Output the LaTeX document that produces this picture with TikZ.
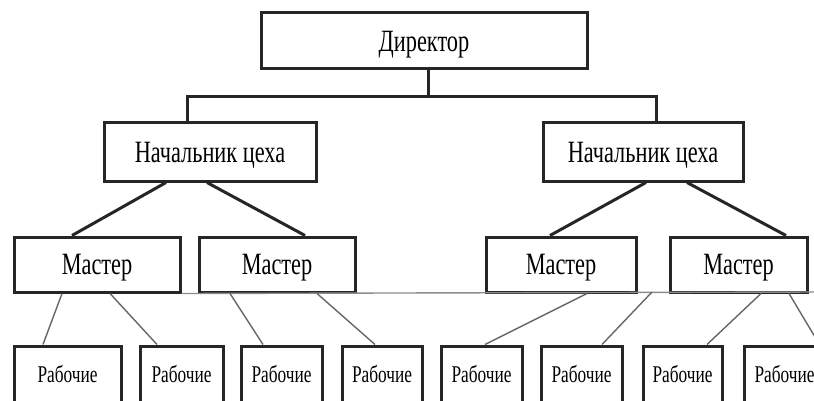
\documentclass[tikz,border=0pt]{standalone}
\usepackage{fontspec}
\setmainfont[FakeStretch=0.72]{Liberation Serif}
\tikzstyle{post}=[draw=black!85, line width=3pt, inner sep=0pt, font=\fontsize{31}{33}\selectfont, text height=20.5pt, text depth=0pt]
\tikzstyle{crew}=[post, font=\fontsize{24}{26}\selectfont, text height=15.9pt, minimum height=58pt]
\tikzstyle{link}=[draw=black!85, line width=3pt, line join=miter]
\tikzstyle{twig}=[draw=black!60, line width=1.4pt]

\begin{document}
\begin{tikzpicture}[x=1pt,y=-1pt]
            \useasboundingbox (0,0) rectangle (814,401);
            \clip (0,0) rectangle (814,401);
            \node[post, minimum width=326pt, minimum height=56pt] (d) at (424,41) {Директор};
            \node[post, minimum width=212pt, minimum height=58pt] (n1) at (210,152) {Начальник цеха};
            \node[post, minimum width=200pt, minimum height=58pt] (n2) at (643,152) {Начальник цеха};
            \node[post, minimum width=166pt, minimum height=55pt] (m1) at (97,264.5) {Мастер};
            \node[post, minimum width=156pt, minimum height=55pt] (m2) at (277,264.5) {Мастер};
            \node[post, minimum width=150pt, minimum height=55pt] (m3) at (561,264.5) {Мастер};
            \node[post, minimum width=137pt, minimum height=55pt] (m4) at (738.5,264.5) {Мастер};
            \node[crew, minimum width=107pt] (r1) at (67.5,375) {Рабочие};
            \node[crew, minimum width=83pt] (r2) at (181.5,375) {Рабочие};
            \node[crew, minimum width=81pt] (r3) at (281.5,375) {Рабочие};
            \node[crew, minimum width=80pt] (r4) at (382,375) {Рабочие};
            \node[crew, minimum width=81pt] (r5) at (481.5,375) {Рабочие};
            \node[crew, minimum width=81pt] (r6) at (581.5,375) {Рабочие};
            \node[crew, minimum width=79pt] (r7) at (682.5,375) {Рабочие};
            \node[crew, minimum width=81pt] (r8) at (784.5,375) {Рабочие};
            \coordinate (bus) at (428,97);
            \coordinate (rim) at (820,292);
            \coordinate (fork) at (652,292);
            \draw[link] (d.south -| bus) -- (bus);
            \draw[link] ([xshift=-23pt]n1.north) |- (bus) -| ([xshift=13pt]n2.north);
            \draw[link] ([xshift=-44pt]n1.south) -- ([xshift=-25pt]m1.north);
            \draw[link] ([xshift=-3pt]n1.south) -- ([xshift=28pt]m2.north);
            \draw[link] ([xshift=3pt]n2.south) -- ([xshift=-11pt]m3.north);
            \draw[link] ([xshift=44pt]n2.south) -- ([xshift=47.5pt]m4.north);
            \draw[twig, draw=black!45] (m1.south east) -- (rim);
            \draw[twig] ([xshift=-35pt]m1.south) -- ([xshift=-24.5pt]r1.north);
            \draw[twig] ([xshift=13pt]m1.south) -- ([xshift=-24.5pt]r2.north);
            \draw[twig] ([xshift=-47pt]m2.south) -- ([xshift=-18.5pt]r3.north);
            \draw[twig] ([xshift=40pt]m2.south) -- ([xshift=-7pt]r4.north);
            \draw[twig] ([xshift=26pt]m3.south) -- ([xshift=3.5pt]r5.north);
            \draw[twig] (fork) -- ([xshift=20.5pt]r6.north);
            \draw[twig] ([xshift=22.5pt]m4.south) -- ([xshift=24.5pt]r7.north);
            \draw[twig] ([xshift=50.5pt]m4.south) -- ([xshift=35pt]r8.north);
        \end{tikzpicture}
\end{document}
